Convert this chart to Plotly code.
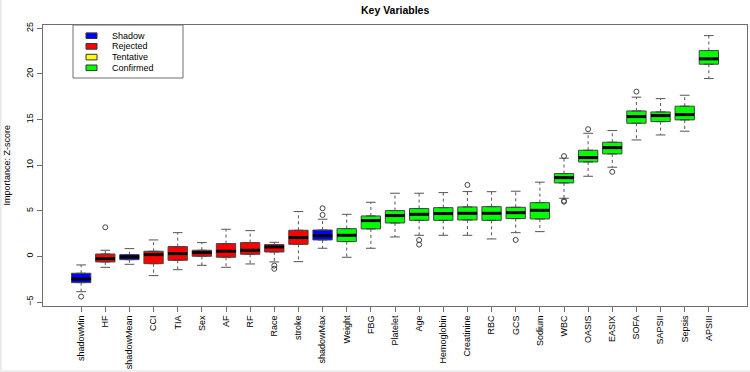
import plotly.graph_objects as go

# ---- data ----
variables = ["shadowMin", "HF", "shadowMean", "CCI", "TIA", "Sex", "AF", "RF", "Race", "stroke",
             "shadowMax", "Weight", "FBG", "Platelet", "Age", "Hemoglobin", "Creatinine", "RBC",
             "GCS", "Sodium", "WBC", "OASIS", "EASIX", "SOFA", "SAPSII", "Sepsis", "APSIII"]
decision = ["Shadow", "Rejected", "Shadow", "Rejected", "Rejected", "Rejected", "Rejected", "Rejected",
            "Rejected", "Rejected", "Shadow", "Confirmed", "Confirmed", "Confirmed", "Confirmed",
            "Confirmed", "Confirmed", "Confirmed", "Confirmed", "Confirmed", "Confirmed", "Confirmed",
            "Confirmed", "Confirmed", "Confirmed", "Confirmed", "Confirmed"]
lower_whisker = [-3.86, -1.19, -0.86, -2.10, -1.45, -0.97, -1.19, -0.82, -0.60, -0.57, 0.90, -0.09,
                 0.90, 2.14, 2.32, 2.32, 2.32, 1.92, 2.61, 2.72, 6.38, 8.79, 9.78, 12.77, 13.32, 13.73, 19.50]
q1 = [-2.87, -0.60, -0.35, -0.79, -0.42, 0.02, -0.09, 0.24, 0.49, 1.33, 1.81, 1.63, 3.02, 3.67, 3.96,
      3.96, 4.00, 3.96, 4.15, 4.11, 8.06, 10.36, 11.24, 14.60, 14.78, 14.97, 21.07]
median = [-2.47, -0.24, -0.05, 0.20, 0.31, 0.42, 0.57, 0.68, 1.04, 2.07, 2.28, 2.32, 3.93, 4.48, 4.62,
          4.70, 4.73, 4.73, 4.80, 5.06, 8.64, 10.84, 11.93, 15.33, 15.44, 15.55, 21.66]
q3 = [-1.84, 0.27, 0.20, 0.57, 1.08, 0.68, 1.41, 1.52, 1.30, 2.87, 2.90, 3.05, 4.44, 5.03, 5.25, 5.35,
      5.43, 5.46, 5.39, 5.90, 9.08, 11.64, 12.52, 15.95, 15.84, 16.47, 22.57]
upper_whisker = [-0.93, 0.68, 0.86, 1.81, 2.61, 1.52, 2.98, 2.83, 1.55, 4.92, 4.08, 4.62, 5.94, 6.93,
                 6.93, 7.00, 7.11, 7.10, 7.15, 8.14, 10.77, 13.50, 13.80, 17.46, 17.30, 17.67, 24.21]
outlier_var = ["shadowMin", "HF", "Race", "Race", "shadowMax", "shadowMax", "Age", "Age", "Creatinine",
               "GCS", "WBC", "WBC", "WBC", "OASIS", "EASIX", "SOFA"]
outlier_val = [-4.40, 3.20, -1.00, -1.35, 4.55, 5.28, 1.80, 1.30, 7.84, 1.81, 11.00, 6.10, 6.00,
               13.95, 9.27, 18.07]
legend_labels = ["Shadow", "Rejected", "Tentative", "Confirmed"]
legend_colors = ["#0000FF", "#FF0000", "#FFFF00", "#00FF00"]
y_ticks = [-5, 0, 5, 10, 15, 20, 25]

color_of = dict(zip(legend_labels, legend_colors))
FONT = "Liberation Sans, Arial, sans-serif"
BORDER = "#444444"
FRAME = "#6e6e6e"
BOXW = 0.8
CAPW = 0.4

fig = go.Figure()
xs = list(range(len(variables)))

# boxes (whiskers drawn separately)
for i, v in enumerate(variables):
    fig.add_trace(go.Box(
        x=[i], q1=[q1[i]], median=[median[i]], q3=[q3[i]],
        lowerfence=[q1[i]], upperfence=[q3[i]],
        width=BOXW, fillcolor=color_of[decision[i]],
        line=dict(color=BORDER, width=1), boxpoints=False,
        showlegend=False, hoverinfo="skip"))

# dashed whiskers
wx, wy = [], []
for i in xs:
    wx += [i, i, None, i, i, None]
    wy += [q3[i], upper_whisker[i], None, q1[i], lower_whisker[i], None]
fig.add_trace(go.Scatter(x=wx, y=wy, mode="lines", line=dict(color="#555555", width=1, dash="3px,3px"),
                         showlegend=False, hoverinfo="skip"))
# caps
cx, cy = [], []
for i in xs:
    cx += [i - CAPW / 2, i + CAPW / 2, None, i - CAPW / 2, i + CAPW / 2, None]
    cy += [upper_whisker[i], upper_whisker[i], None, lower_whisker[i], lower_whisker[i], None]
fig.add_trace(go.Scatter(x=cx, y=cy, mode="lines", line=dict(color="#555555", width=1),
                         showlegend=False, hoverinfo="skip"))
# medians
mx, my = [], []
for i in xs:
    mx += [i - BOXW / 2, i + BOXW / 2, None]
    my += [median[i], median[i], None]
fig.add_trace(go.Scatter(x=mx, y=my, mode="lines", line=dict(color="black", width=3),
                         showlegend=False, hoverinfo="skip"))
# outliers
fig.add_trace(go.Scatter(x=[variables.index(v) for v in outlier_var], y=outlier_val, mode="markers",
                         marker=dict(symbol="circle-open", size=5, color="#444444", line=dict(width=1)),
                         showlegend=False, hoverinfo="skip"))

# layout geometry (pixels)
W, H = 750, 372
L, R, T, B = 43, 3, 25, 66
pw, ph = W - L - R, H - T - B


def px_x(p):
    return (p - L) / pw


def px_y(p):
    return (H - B - p) / ph


shapes = []
annotations = []
# legend box
shapes.append(dict(type="rect", xref="paper", yref="paper", x0=px_x(73), x1=px_x(183),
                   y0=px_y(78), y1=px_y(25), line=dict(color=FRAME, width=1), fillcolor="white"))
for k, (lab, col) in enumerate(zip(legend_labels, legend_colors)):
    cyp = 35.7 + k * 10.7
    shapes.append(dict(type="rect", xref="paper", yref="paper", x0=px_x(86), x1=px_x(97),
                       y0=px_y(cyp + 2.8), y1=px_y(cyp - 2.8), line=dict(color="#333333", width=1),
                       fillcolor=col))
    annotations.append(dict(xref="paper", yref="paper", x=px_x(110), y=px_y(cyp), text=lab,
                            showarrow=False, xanchor="left", yanchor="middle",
                            font=dict(family=FONT, size=9, color="black")))

# title and y label
annotations.append(dict(xref="paper", yref="paper", x=px_x(395), y=px_y(10), text="<b>Key Variables</b>",
                        showarrow=False, xanchor="center", yanchor="middle",
                        font=dict(family=FONT, size=10.5, color="black")))
annotations.append(dict(xref="paper", yref="paper", x=px_x(6), y=px_y(165.5), text="Importance: Z-score",
                        showarrow=False, xanchor="center", yanchor="middle", textangle=-90,
                        font=dict(family=FONT, size=9, color="black")))

# light gray window edges
shapes.append(dict(type="rect", xref="paper", yref="paper", x0=px_x(0), x1=px_x(1.5), y0=px_y(372),
                   y1=px_y(0), line=dict(width=0), fillcolor="#e8e8e8"))
shapes.append(dict(type="rect", xref="paper", yref="paper", x0=px_x(0), x1=px_x(750), y0=px_y(372),
                   y1=px_y(370), line=dict(width=0), fillcolor="#eeeeee"))

fig.update_layout(
    width=W, height=H,
    margin=dict(l=L, r=R, t=T, b=B, autoexpand=False),
    paper_bgcolor="white", plot_bgcolor="white",
    shapes=shapes, annotations=annotations,
    showlegend=False,
    font=dict(family=FONT, size=9, color="black"),
    xaxis=dict(range=[-1.58, len(variables) - 1 + 1.58], tickmode="array", tickvals=xs, ticktext=variables,
               tickangle=-90, ticks="outside", ticklen=5, tickcolor=FRAME, showline=True, mirror=True,
               linecolor=FRAME, linewidth=1, showgrid=False, zeroline=False,
               tickfont=dict(family=FONT, size=9, color="black")),
    yaxis=dict(range=[-5.43, 25.37], tickmode="array", tickvals=y_ticks, tickangle=-90, ticks="outside",
               ticklen=5, tickcolor=FRAME, showline=True, mirror=True, linecolor=FRAME, linewidth=1,
               showgrid=False, zeroline=False, tickfont=dict(family=FONT, size=9, color="black")),
)

fig.write_html("out.html")
